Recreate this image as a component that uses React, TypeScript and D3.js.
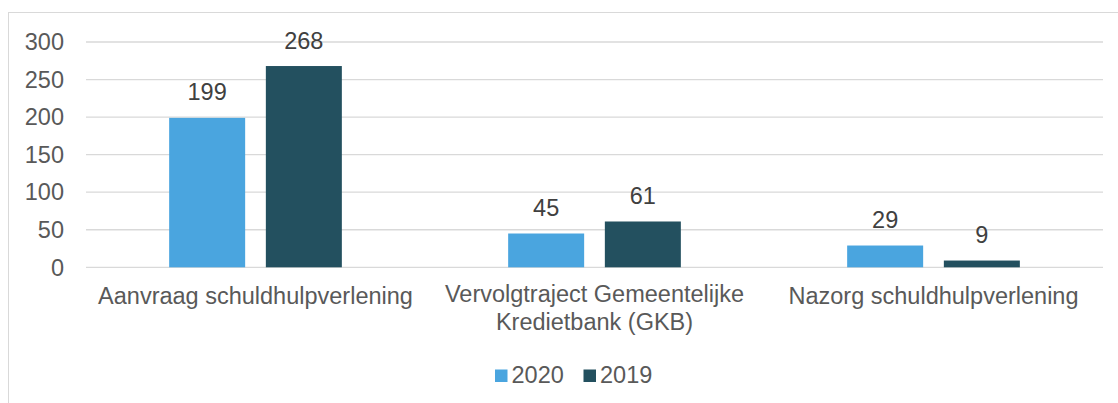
import React from "react";
import * as d3 from "d3";

const categories: string[][] = [
  ["Aanvraag schuldhulpverlening"],
  ["Vervolgtraject Gemeentelijke", "Kredietbank (GKB)"],
  ["Nazorg schuldhulpverlening"],
];
const seriesNames = ["2020", "2019"];
const values2020 = [199, 45, 29];
const values2019 = [268, 61, 9];
const yTicks = [0, 50, 100, 150, 200, 250, 300];
const colors = ["#4AA5DF", "#23505F"];

const W = 1118;
const H = 403;
const FONT = "'Liberation Sans', Arial, sans-serif";
const FS = 23.5;

export default function App() {
  const series = [values2020, values2019];
  const x0 = d3
    .scaleBand<number>()
    .domain(categories.map((_, i) => i))
    .range([86, 1103])
    .padding(0);
  const x1 = d3
    .scaleBand<string>()
    .domain(seriesNames)
    .range([0, x0.bandwidth()])
    .paddingInner(0.214)
    .paddingOuter(0.86);
  const y = d3.scaleLinear().domain([0, 300]).range([267.3, 42]);

  return (
    <svg
      width={W}
      height={H}
      style={{ position: "absolute", left: 0, top: 0, background: "#fff" }}
      fontFamily={FONT}
    >
      <rect x={8.5} y={12.5} width={W} height={H} fill="#fff" stroke="#D9D9D9" strokeWidth={1} />
      {yTicks.map((t) => (
        <g key={t}>
          <line x1={86} x2={1103} y1={y(t)} y2={y(t)} stroke="#D9D9D9" strokeWidth={1.3} />
          <text x={64} y={y(t)} dy="0.35em" textAnchor="end" fontSize={FS} fill="#595959">
            {t}
          </text>
        </g>
      ))}
      {categories.map((cat, ci) =>
        seriesNames.map((s, si) => {
          const v = series[si][ci];
          const bx = (x0(ci) as number) + (x1(s) as number);
          const bw = x1.bandwidth();
          return (
            <g key={ci + "-" + s}>
              <rect x={bx} y={y(v)} width={bw} height={y(0) - y(v)} fill={colors[si]} />
              <text
                x={bx + bw / 2}
                y={y(v) - 17.5}
                textAnchor="middle"
                fontSize={FS}
                fill="#404040"
              >
                {v}
              </text>
            </g>
          );
        })
      )}
      {categories.map((cat, ci) => {
        const cx = (x0(ci) as number) + x0.bandwidth() / 2;
        const base = cat.length > 1 ? 301.5 : 304;
        return (
          <text key={ci} textAnchor="middle" fontSize={FS} fill="#595959">
            {cat.map((line, li) => (
              <tspan key={li} x={cx} y={base + li * 28.5}>
                {line}
              </tspan>
            ))}
          </text>
        );
      })}
      {seriesNames.map((s, si) => {
        const lx = [495, 583.5][si];
        return (
          <g key={s}>
            <rect x={lx} y={369.5} width={12.5} height={12.5} fill={colors[si]} />
            <text x={lx + 16.5} y={382.5} fontSize={FS} fill="#595959">
              {s}
            </text>
          </g>
        );
      })}
    </svg>
  );
}
